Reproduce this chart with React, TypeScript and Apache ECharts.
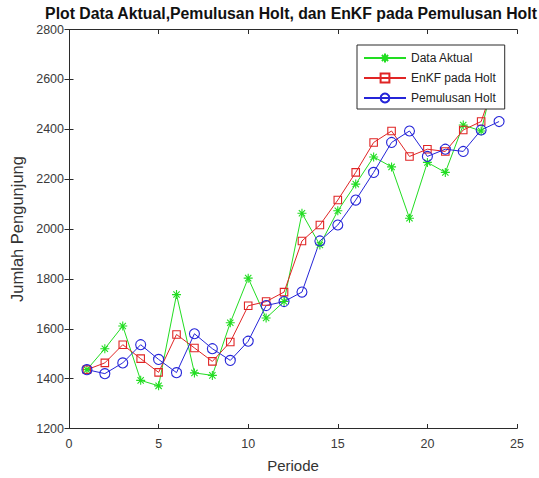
import React, { useEffect, useRef } from "react";
import * as echarts from "echarts";

const periods = [1, 2, 3, 4, 5, 6, 7, 8, 9, 10, 11, 12, 13, 14, 15, 16, 17, 18, 19, 20, 21, 22, 23, 24];
const dataAktual = [1436, 1520, 1611, 1393, 1371, 1737, 1423, 1413, 1624, 1803, 1643, 1709, 2063, 1936, 2073, 2180, 2289, 2249, 2043, 2267, 2227, 2417, 2393, 2690];
const enkfHolt = [1436, 1463, 1536, 1480, 1425, 1577, 1523, 1469, 1547, 1692, 1709, 1747, 1952, 2016, 2116, 2227, 2347, 2393, 2291, 2320, 2311, 2397, 2431, 2640];
const pemulusanHolt = [1436, 1420, 1463, 1536, 1477, 1424, 1580, 1520, 1473, 1550, 1693, 1709, 1747, 1952, 2016, 2116, 2227, 2347, 2393, 2291, 2320, 2311, 2397, 2431];

const xTicks = { min: 0, max: 25, interval: 5 };
const yTicks = { min: 1200, max: 2800, interval: 200 };

const GREEN = "#22dd22";
const RED = "#e02525";
const BLUE = "#2525d8";
const AXIS = "#2b2b2b";
const FONT = "'Liberation Sans', Arial, Helvetica, sans-serif";

const STAR = "path://M5,0L5,10M0,5L10,5M1.5,1.5L8.5,8.5M1.5,8.5L8.5,1.5";

export default function App() {
  const ref = useRef<HTMLDivElement>(null);

  useEffect(() => {
    if (!ref.current) return;
    const chart = echarts.init(ref.current, undefined, { renderer: "svg" });

    const axisCommon = {
      type: "value" as const,
      axisLine: { show: true, lineStyle: { color: AXIS, width: 1 } },
      axisTick: { show: true, inside: true, length: 4.5, lineStyle: { color: AXIS } },
      splitLine: { show: false },
    };

    const mk = (name: string, vals: number[], color: string, symbol: string, size: number) => ({
      name,
      type: "line",
      z: 2,
      data: periods.map((p, i) => [p, vals[i]]),
      symbol,
      symbolSize: size,
      showSymbol: true,
      lineStyle: { color, width: 1 },
      itemStyle: { color: "rgba(255,255,255,0)", borderColor: color, borderWidth: 1.1 },
      emphasis: { disabled: true },
    });

    chart.setOption({
      animation: false,
      backgroundColor: "#ffffff",
      textStyle: { fontFamily: FONT },
      title: {
        text: "Plot Data Aktual,Pemulusan Holt, dan EnKF pada Pemulusan Holt",
        left: 286,
        top: 0,
        textAlign: "center",
        textStyle: { fontFamily: FONT, fontSize: 15.8, fontWeight: "bold", color: "#111" },
      },
      grid: { left: 69, right: 22, top: 29.5, bottom: 49.5 },
      xAxis: [
        {
          ...axisCommon,
          position: "bottom",
          min: xTicks.min,
          max: xTicks.max,
          interval: xTicks.interval,
          axisLabel: { fontSize: 12.5, color: "#3a3a3a", margin: 9, fontFamily: FONT },
          name: "Periode",
          nameLocation: "middle",
          nameGap: 29,
          nameTextStyle: { fontSize: 15, color: "#333", fontFamily: FONT },
        },
        {
          ...axisCommon,
          position: "top",
          min: xTicks.min,
          max: xTicks.max,
          interval: xTicks.interval,
          axisLabel: { show: false },
        },
      ],
      yAxis: [
        {
          ...axisCommon,
          position: "left",
          min: yTicks.min,
          max: yTicks.max,
          interval: yTicks.interval,
          axisLabel: {
            fontSize: 12.5,
            color: "#3a3a3a",
            margin: 5,
            fontFamily: FONT,
            formatter: (v: number) => String(v),
          },
          name: "Jumlah Pengunjung",
          nameLocation: "middle",
          nameGap: 41,
          nameTextStyle: { fontSize: 16.5, color: "#333", fontFamily: FONT },
        },
        {
          ...axisCommon,
          position: "right",
          min: yTicks.min,
          max: yTicks.max,
          interval: yTicks.interval,
          axisLabel: { show: false },
        },
      ],
      legend: {
        orient: "vertical",
        left: 357,
        top: 45,
        z: 30,
        zlevel: 0,
        backgroundColor: "#ffffff",
        borderColor: AXIS,
        borderWidth: 1,
        padding: [7, 9, 5, 6],
        itemWidth: 42,
        itemHeight: 11,
        itemGap: 8,
        textStyle: { fontSize: 12, color: "#222", fontFamily: FONT },
        data: ["Data Aktual", "EnKF pada Holt", "Pemulusan Holt"],
      },
      series: [
        mk("Data Aktual", dataAktual, GREEN, STAR, 9),
        mk("EnKF pada Holt", enkfHolt, RED, "rect", 7.5),
        mk("Pemulusan Holt", pemulusanHolt, BLUE, "circle", 10),
      ],
    });

    return () => chart.dispose();
  }, []);

  return (
    <div
      ref={ref}
      style={{ position: "fixed", left: 0, top: 0, width: 539, height: 478, background: "#fff" }}
    />
  );
}
